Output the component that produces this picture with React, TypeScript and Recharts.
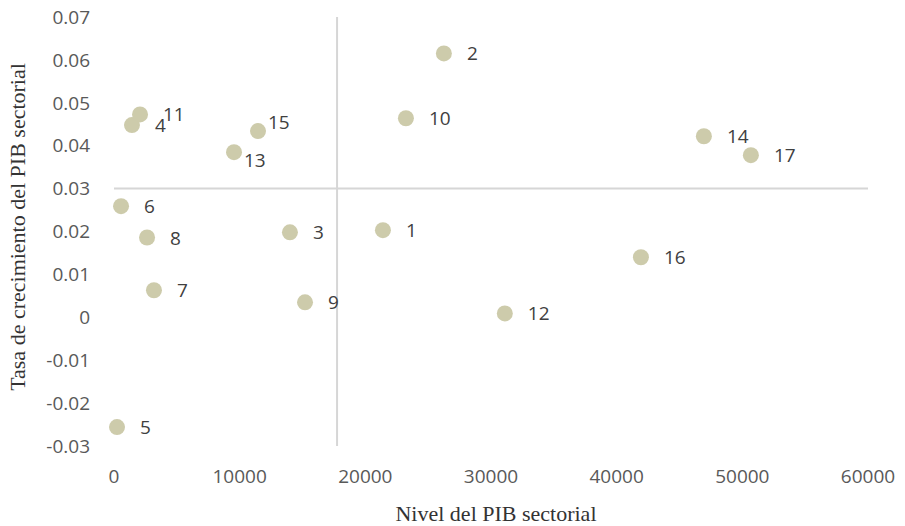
import React from 'react';
import { ScatterChart, Scatter, XAxis, YAxis, ReferenceLine, Label } from 'recharts';

const sectorIds = [1, 2, 3, 4, 5, 6, 7, 8, 9, 10, 11, 12, 13, 14, 15, 16, 17];
const gdpLevel = [21400, 26250, 14000, 1430, 240, 560, 3180, 2630, 15200, 23230, 2070, 31100, 9550, 46940, 11460, 41930, 50680];
const gdpGrowth = [0.0203, 0.0615, 0.0198, 0.0448, -0.0256, 0.0259, 0.0063, 0.0186, 0.0035, 0.0464, 0.0473, 0.0009, 0.0385, 0.0422, 0.0434, 0.014, 0.0378];

const xTicks = [0, 10000, 20000, 30000, 40000, 50000, 60000];
const yTicks = [-0.03, -0.02, -0.01, 0, 0.01, 0.02, 0.03, 0.04, 0.05, 0.06, 0.07];

const xCross = 17750;
const yCross = 0.03;

const data = sectorIds.map((id, i) => ({ id, x: gdpLevel[i], y: gdpGrowth[i] }));

// a couple of labels were nudged by hand in the original
const labelShift: Record<number, [number, number]> = {
  13: [-13, 8],
  15: [-13, -9],
};

const tickStyle = { fill: '#595959', fontSize: 19, fontFamily: 'Open Sans' };
const titleFont = 'Liberation Serif';

const PointWithLabel = (props: any) => {
  const { cx, cy, payload } = props;
  const [dx, dy] = labelShift[payload.id] || [0, 0];
  return (
    <g>
      <circle cx={cx} cy={cy} r={8} fill="#cdcbab" />
      <text
        x={cx + 23 + dx}
        y={cy + dy}
        dominantBaseline="central"
        textAnchor="start"
        fill="#404040"
        fontSize={19}
        fontFamily="Open Sans"
      >
        {payload.id}
      </text>
    </g>
  );
};

export default function App() {
  return (
    <div style={{ position: 'absolute', left: 0, top: 0, width: 905, height: 526, background: '#fff' }}>
      <ScatterChart width={905} height={526} margin={{ top: 17, right: 37, left: 0, bottom: 0 }}>
        <XAxis
          type="number"
          dataKey="x"
          domain={[0, 60000]}
          ticks={xTicks}
          axisLine={false}
          tickLine={false}
          tickSize={0}
          tickMargin={24}
          height={80}
          tick={tickStyle}
        >
          <Label
            content={() => (
              <text x={496} y={513} textAnchor="middle" dominantBaseline="central" fill="#333" fontSize={22} fontFamily={titleFont}>
                Nivel del PIB sectorial
              </text>
            )}
          />
        </XAxis>
        <YAxis
          type="number"
          dataKey="y"
          domain={[-0.03, 0.07]}
          ticks={yTicks}
          axisLine={false}
          tickLine={false}
          tickSize={0}
          tickMargin={24}
          width={114}
          tick={tickStyle}
          tickFormatter={(v: number) => (v === 0 ? '0' : v.toFixed(2))}
        >
          <Label
            content={() => (
              <text
                x={17}
                y={227}
                transform="rotate(-90 17 227)"
                textAnchor="middle"
                dominantBaseline="central"
                fill="#333"
                fontSize={22}
                fontFamily={titleFont}
              >
                Tasa de crecimiento del PIB sectorial
              </text>
            )}
          />
        </YAxis>
        <ReferenceLine x={xCross} stroke="#d6d6d6" strokeWidth={2} />
        <ReferenceLine y={yCross} stroke="#d6d6d6" strokeWidth={2} />
        <Scatter data={data} shape={PointWithLabel} isAnimationActive={false} />
      </ScatterChart>
    </div>
  );
}
